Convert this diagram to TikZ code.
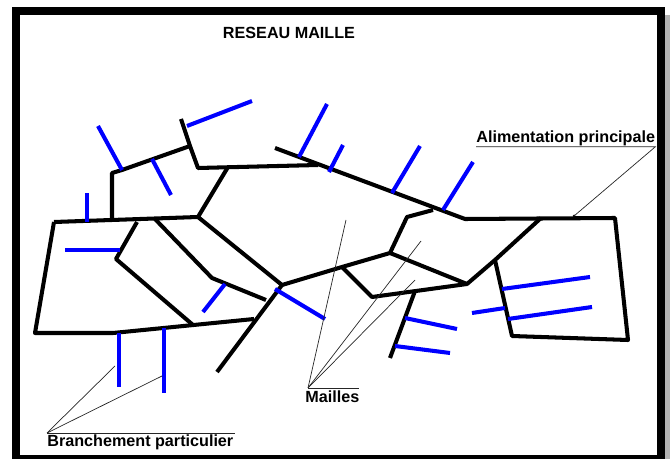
\documentclass[tikz,border=0pt]{standalone}
\usepackage{fontspec}
\setmainfont{Liberation Sans}
\usetikzlibrary{positioning}
\tikzset{
  conduite/.style={line width=2.3pt, line join=round},
  branche/.style={blue, line width=2.3pt},
  rappel/.style={line width=0.4pt, black!85},
  legende/.style={font=\fontsize{9.2}{10}\selectfont\bfseries, inner sep=0pt},
}

\begin{document}
\begin{tikzpicture}[x=0.02cm, y=-0.02cm]
  \useasboundingbox (0,0) rectangle (670,459);
  % cadre
  \fill[black!30] (665,15) rectangle (670,459);
  \begin{scope}
    \clip (0,0) rectangle (670,459);
    \draw[line width=4.5pt] (16,11) rectangle (661,459);
  \end{scope}
  \node[legende, anchor=base] (titre) at (289,39) {RESEAU MAILLE};

  % conduites (noir)
  \draw[conduite] (275,148) -- (465,219) -- (615,218) -- (628,340) -- (512,336) -- (495,260);
  \draw[conduite] (541,218) -- (495,260) -- (467,284);
  \draw[conduite] (181,119) -- (190,146) -- (198,168) -- (318,165);
  \draw[conduite] (112,221) -- (112,173) -- (122,170) -- (190,146);
  \draw[conduite] (228,167) -- (198,217);
  \draw[conduite] (54,222) -- (198,217);
  \draw[conduite] (54,222) -- (35,333) -- (113,333) -- (254,319);
  \draw[conduite] (137,222) -- (116,259) -- (193,325);
  \draw[conduite] (155,219) -- (212,278) -- (266,300);
  \draw[conduite] (198,217) -- (282,285) -- (342,267) -- (390,253) -- (407,217) -- (433,210);
  \draw[conduite] (282,285) -- (217,372);
  \draw[conduite] (342,267) -- (372,297) -- (467,284) -- (390,253);
  \draw[conduite] (415,291) -- (390,358);

  % branchements (bleu)
  \foreach \xa/\ya/\xb/\yb in {187/126/252/101, 122/170/98/126, 152/159/171/195,
      87/222/87/193, 120/250/65/250, 225/284/203/312, 275/289/325/319,
      119/333/119/387, 164/328/164/393, 299/157/327/104, 329/172/343/145,
      392/193/420/146, 443/210/473/162, 405/318/457/329, 395/346/450/353,
      502/289/590/277, 505/308/472/313, 508/319/592/307}
    \draw[branche] (\xa,\ya) -- (\xb,\yb);

  % legendes
  \node[legende, anchor=base west] (alim) at (476,143) {Alimentation principale};
  \fill (574,216) circle (1.5) coordinate (prise);
  \draw[rappel] (alim.south west) -- (alim.south east) -- (prise);

  \node[legende, anchor=base west] (mailles) at (305,403) {Mailles};
  \coordinate (m0) at (308,388);
  \draw[rappel] (m0) -- (359,388);
  \foreach \p in {(346,220), (421,241), (415,280)}
    \draw[rappel] (m0) -- \p;

  \node[legende, anchor=base west] (branch) at (47,447) {Branchement particulier};
  \coordinate (b0) at (47,433);
  \draw[rappel] (b0) -- (235,433);
  \foreach \p in {(115,366), (162,376)}
    \draw[rappel] (b0) -- \p;
\end{tikzpicture}
\end{document}
